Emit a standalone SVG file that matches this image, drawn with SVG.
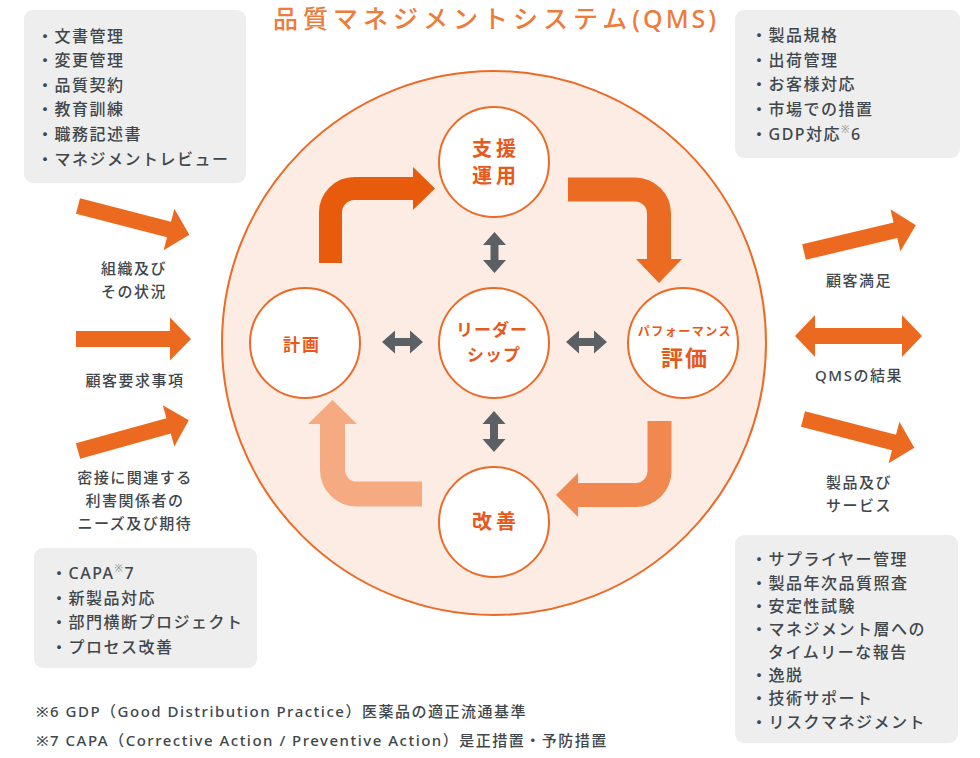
<svg xmlns="http://www.w3.org/2000/svg" width="980" height="758" viewBox="0 0 980 758">
<style>
text{font-family:"Noto Sans","Noto Sans CJK JP",sans-serif;dominant-baseline:central}
.box{fill:#eeeeee}
.bt{font-size:16px;fill:#40474c;letter-spacing:1.5px;font-weight:500}
.lbl{font-size:15px;fill:#40474c;letter-spacing:1.5px;text-anchor:middle;font-weight:500}
.fn{font-size:15px;fill:#40474c;letter-spacing:1.5px;font-weight:500}
.node{fill:#ffffff;stroke:#ec6a24;stroke-width:2}
.nt{fill:#e8581a;font-weight:700;text-anchor:middle}
.oarr{fill:#ec6a1f}
.garr{fill:#5b6064}
.sup{font-size:10px;fill:#9a9a9a}
</style>
<defs>
<path id="arr" d="M0,-8 H94 V-21.5 L115,0 L94,21.5 V8 H0 Z"/>
<path id="darr" d="M0,0 L13,-11.5 V-4 H28 V-11.5 L41,0 L28,11.5 V4 H13 V11.5 Z"/>
</defs>

<text x="273" y="18" font-size="25" fill="#ee7b3a" font-weight="500" letter-spacing="5">品質マネジメントシステム<tspan letter-spacing="3">(QMS)</tspan></text>

<circle cx="494" cy="343" r="272" fill="#fdece3" stroke="#ec6a24" stroke-width="2"/>

<g id="connectors">
  <path d="M330.5,263 V212.5 A24,24 0 0 1 354.5,188.5 H414" fill="none" stroke="#e85a0c" stroke-width="23"/>
  <polygon points="413,167 435,188.5 413,210" fill="#e85a0c"/>
  <path d="M568,189.5 H635 A24,24 0 0 1 659,213.5 V260" fill="none" stroke="#ec6b22" stroke-width="24"/>
  <polygon points="636,259 682,259 659,283" fill="#ec6b22"/>
  <path d="M659.5,421 V471 A24,24 0 0 1 635.5,495 H577" fill="none" stroke="#f0884f" stroke-width="24"/>
  <polygon points="578,473 556,495 578,517" fill="#f0884f"/>
  <path d="M422,494 H356.5 A24,24 0 0 1 332.5,470 V423" fill="none" stroke="#f5aa82" stroke-width="25"/>
  <polygon points="308,424 332.5,400 357,424" fill="#f5aa82"/>

  <use href="#darr" class="garr" transform="translate(382,342)"/>
  <use href="#darr" class="garr" transform="translate(566,342)"/>
  <use href="#darr" class="garr" transform="translate(494.5,232) rotate(90)"/>
  <use href="#darr" class="garr" transform="translate(494,411) rotate(90)"/>

  <use href="#arr" class="oarr" transform="translate(78,206) rotate(14.5)"/>
  <use href="#arr" class="oarr" transform="translate(76,339)"/>
  <use href="#arr" class="oarr" transform="translate(78,451) rotate(-15.5)"/>
  <use href="#arr" class="oarr" transform="translate(804,252) rotate(-13.4)"/>
  <use href="#arr" class="oarr" transform="translate(803,419) rotate(14.5)"/>
  <path class="oarr" d="M795,336 L815,315 V328 H902 V315 L922,336 L902,357 V344 H815 V357 Z"/>
</g>

<g id="node-shien">
  <circle class="node" cx="494" cy="162" r="55"/>
  <text class="nt" x="496" y="148" font-size="20" letter-spacing="4">支援</text>
  <text class="nt" x="496" y="175" font-size="20" letter-spacing="4">運用</text>
</g>
<g id="node-keikaku">
  <circle class="node" cx="305" cy="343" r="55"/>
  <text class="nt" x="302" y="344" font-size="17" letter-spacing="2">計画</text>
</g>
<g id="node-leadership">
  <circle class="node" cx="494" cy="343" r="55"/>
  <text class="nt" x="492" y="329" font-size="17" letter-spacing="1">リーダー</text>
  <text class="nt" x="494" y="354" font-size="17" letter-spacing="1">シップ</text>
</g>
<g id="node-hyoka">
  <circle class="node" cx="683" cy="343" r="55"/>
  <text class="nt" x="685" y="331" font-size="12" letter-spacing="1.5" font-weight="500">パフォーマンス</text>
  <text class="nt" x="685" y="357" font-size="22" letter-spacing="2">評価</text>
</g>
<g id="node-kaizen">
  <circle class="node" cx="494" cy="522" r="55"/>
  <text class="nt" x="496" y="521" font-size="20" letter-spacing="4">改善</text>
</g>

<g id="box-top-left">
  <rect class="box" x="24" y="10" width="222" height="173" rx="9"/>
  <text class="bt" x="37" y="36">・文書管理</text>
  <text class="bt" x="37" y="60">・変更管理</text>
  <text class="bt" x="37" y="85">・品質契約</text>
  <text class="bt" x="37" y="109">・教育訓練</text>
  <text class="bt" x="37" y="134">・職務記述書</text>
  <text class="bt" x="37" y="159">・マネジメントレビュー</text>
</g>
<g id="box-top-right">
  <rect class="box" x="735" y="10" width="225" height="148" rx="9"/>
  <text class="bt" x="751" y="35">・製品規格</text>
  <text class="bt" x="751" y="60">・出荷管理</text>
  <text class="bt" x="751" y="84">・お客様対応</text>
  <text class="bt" x="751" y="109">・市場での措置</text>
  <text class="bt" x="751" y="134">・GDP対応<tspan class="sup" dy="-5">※</tspan><tspan dy="5">6</tspan></text>
</g>
<g id="box-bottom-left">
  <rect class="box" x="34" y="548" width="223" height="120" rx="9"/>
  <text class="bt" x="51" y="573">・CAPA<tspan class="sup" dy="-5">※</tspan><tspan dy="5">7</tspan></text>
  <text class="bt" x="51" y="598">・新製品対応</text>
  <text class="bt" x="51" y="622">・部門横断プロジェクト</text>
  <text class="bt" x="51" y="647">・プロセス改善</text>
</g>
<g id="box-bottom-right">
  <rect class="box" x="735" y="535" width="223" height="208" rx="9"/>
  <text class="bt" x="751" y="559">・サプライヤー管理</text>
  <text class="bt" x="751" y="583">・製品年次品質照査</text>
  <text class="bt" x="751" y="606">・安定性試験</text>
  <text class="bt" x="751" y="629">・マネジメント層への</text>
  <text class="bt" x="768" y="652">タイムリーな報告</text>
  <text class="bt" x="751" y="675">・逸脱</text>
  <text class="bt" x="751" y="698">・技術サポート</text>
  <text class="bt" x="751" y="722">・リスクマネジメント</text>
</g>

<g id="labels-left">
  <text class="lbl" x="134" y="268">組織及び</text>
  <text class="lbl" x="134" y="291">その状況</text>
  <text class="lbl" x="135" y="380">顧客要求事項</text>
  <text class="lbl" x="135" y="477">密接に関連する</text>
  <text class="lbl" x="135" y="500">利害関係者の</text>
  <text class="lbl" x="135" y="523">ニーズ及び期待</text>
</g>
<g id="labels-right">
  <text class="lbl" x="859" y="280">顧客満足</text>
  <text class="lbl" x="859" y="375">QMSの結果</text>
  <text class="lbl" x="859" y="482">製品及び</text>
  <text class="lbl" x="859" y="505">サービス</text>
</g>

<g id="footnotes">
  <text class="fn" x="36" y="711">※6 GDP（Good Distribution Practice）医薬品の適正流通基準</text>
  <text class="fn" x="36" y="740">※7 CAPA（Corrective Action / Preventive Action）是正措置・予防措置</text>
</g>
</svg>
